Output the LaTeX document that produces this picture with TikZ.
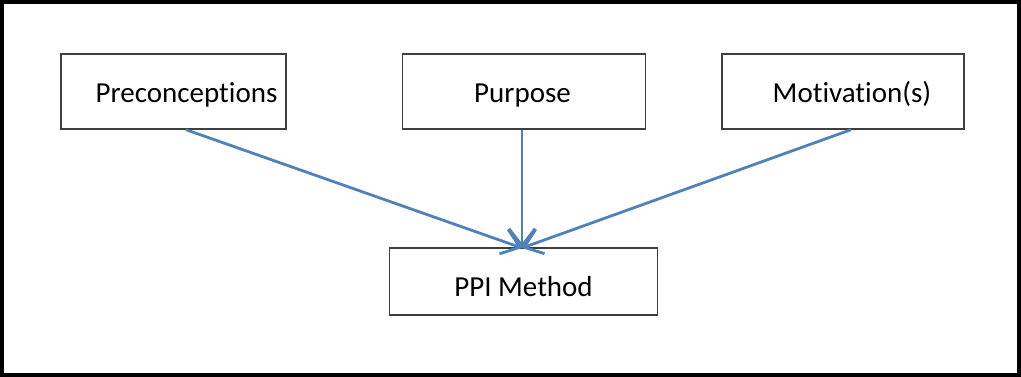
\documentclass[tikz,border=0pt]{standalone}
\usepackage{fontspec}
\setmainfont[RawFeature=-liga]{Carlito}
\usetikzlibrary{arrows.meta}
\definecolor{linkblue}{HTML}{4F81BD}
\definecolor{boxgray}{HTML}{3F3F3F}
\begin{document}
\begin{tikzpicture}[x=1pt,y=-1pt,
  box/.style={draw=boxgray, line width=1.4pt, fill=white, inner sep=0pt},
  boxtext/.style={anchor=base, inner sep=0pt, font=\fontsize{29}{34}\selectfont},
  link/.style={draw=linkblue, line width=2.8pt, -{Straight Barb[length=17pt,width=26pt,line width=2.8pt]}}]
  % frame
  \useasboundingbox (0,0) rectangle (1021,377);
  \draw[line width=4pt, black] (2,2) rectangle (1019,375);
  % boxes
  \node[box, minimum width=225pt, minimum height=75pt] (pre) at (173.5,91.5) {};
  \node[box, minimum width=243pt, minimum height=75pt] (pur) at (524,91.5) {};
  \node[box, minimum width=242pt, minimum height=75pt] (mot) at (843,91.5) {};
  \node[box, minimum width=268pt, minimum height=67pt] (ppi) at (523.5,281.5) {};
  % labels
  \node[boxtext] (preT) at (186.5,103) {Preconceptions};
  \node[boxtext] (purT) at (522.5,103) {Purpose};
  \node[boxtext] (motT) at (852,103) {Motivation(s)};
  \node[boxtext] (ppiT) at (523.5,296) {PPI Method};
  \coordinate (tip) at (522,248);
  % connectors
  \draw[link] (pre.south -| 186,0) -- (tip);
  \draw[link] (pur.south -| 522,0) -- (tip);
  \draw[link] (mot.south -| 851,0) -- (tip);
\end{tikzpicture}
\end{document}
